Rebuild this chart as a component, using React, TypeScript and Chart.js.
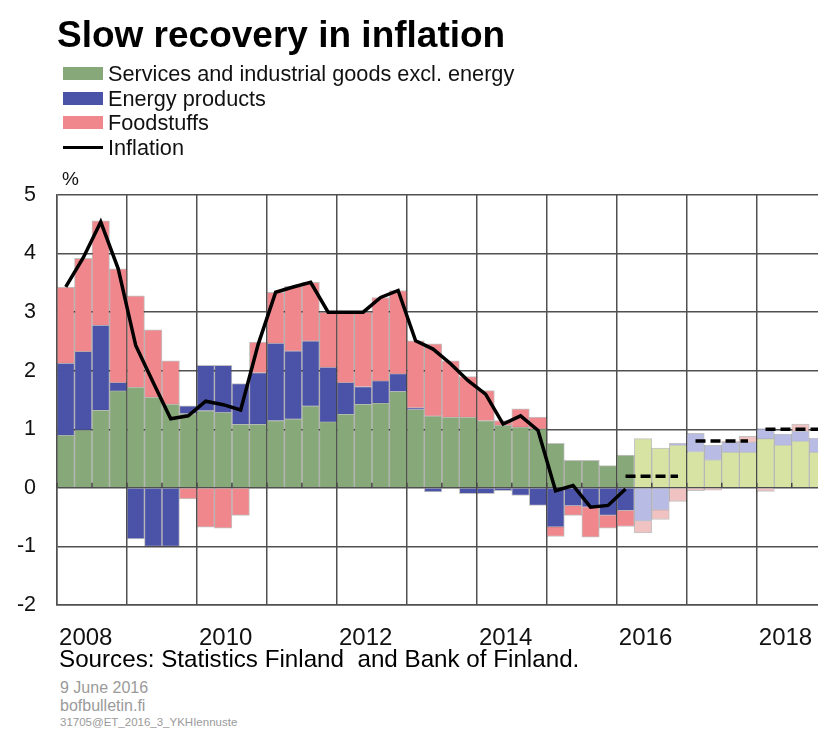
import React, { useEffect, useRef } from "react";
import { Chart, registerables } from "chart.js";

Chart.register(...registerables);

const FONT = '"Liberation Sans", Arial, Helvetica, sans-serif';

const years = [2008, 2009, 2010, 2011, 2012, 2013, 2014, 2015, 2016, 2017, 2018];
const quarterNames = ["Q1", "Q2", "Q3", "Q4"];
const labels = years.flatMap((y) => quarterNames.map((q) => `${y} ${q}`));
const firstForecast = "2016 Q2";

// Contributions to inflation, percentage points (quarterly)
const services = [
  0.9, 0.99, 1.33, 1.66, 1.72, 1.55, 1.43, 1.27, 1.32, 1.29, 1.09, 1.09,
  1.15, 1.18, 1.4, 1.13, 1.26, 1.43, 1.45, 1.65, 1.34, 1.23, 1.21, 1.21,
  1.15, 1.07, 1.04, 1.01, 0.76, 0.47, 0.47, 0.38, 0.56, 0.84, 0.68, 0.73,
  0.62, 0.48, 0.61, 0.61, 0.84, 0.73, 0.8, 0.61,
];
const energy = [
  1.23, 1.34, 1.45, 0.14, -0.87, -1.0, -1.0, 0.13, 0.77, 0.8, 0.69, 0.88,
  1.32, 1.16, 1.11, 0.93, 0.54, 0.3, 0.38, 0.3, 0.03, -0.07, 0, -0.1,
  -0.1, -0.05, -0.13, -0.3, -0.67, -0.31, -0.33, -0.47, -0.39, -0.57, -0.38, 0.03,
  0.31, 0.25, 0.17, 0.17, 0.17, 0.19, 0.17, 0.24,
];
const food = [
  1.3, 1.59, 1.78, 1.94, 1.56, 1.15, 0.74, -0.19, -0.67, -0.69, -0.47, 0.52,
  0.87, 1.1, 1.0, 0.94, 1.2, 1.27, 1.42, 1.42, 1.14, 1.23, 0.96, 0.69,
  0.51, 0.08, 0.31, 0.2, -0.16, -0.16, -0.51, -0.22, -0.27, -0.2, -0.16, -0.23,
  -0.05, -0.04, 0.02, 0.1, -0.06, 0, 0.12, 0,
];
const inflation: (number | null)[] = [
  3.43, 3.93, 4.54, 3.74, 2.43, 1.8, 1.18, 1.23, 1.48, 1.42, 1.33, 2.45,
  3.34, 3.43, 3.51, 3.0, 3.0, 3.0, 3.25, 3.37, 2.51, 2.37, 2.12, 1.83,
  1.6, 1.09, 1.23, 0.98, -0.05, 0.04, -0.33, -0.3, -0.02,
  null, null, null, null, null, null, null, null, null, null, null,
];
// Forecast annual inflation (dashed)
const forecastYears = [2016, 2017, 2018];
const forecastAvg = [0.2, 0.8, 1.0];

const yTicks = [-2, -1, 0, 1, 2, 3, 4, 5];

const COLORS = {
  green: "#87a878",
  blue: "#4b53a8",
  pink: "#ef878c",
  lightGreen: "#d7e3a3",
  lightBlue: "#b8bce4",
  lightPink: "#f0c2c2",
  grid: "#505050",
};

export default function App() {
  const ref = useRef<HTMLCanvasElement | null>(null);

  useEffect(() => {
    const canvas = ref.current;
    if (!canvas) return;
    const fStart = labels.indexOf(firstForecast);
    const pick = (dark: string, light: string) => labels.map((_, i) => (i >= fStart ? light : dark));

    const dashed = forecastYears.map((fy, j) => ({
      type: "line" as const,
      label: `Forecast ${fy}`,
      data: labels.map((_, i) => (years[Math.floor(i / 4)] === fy ? forecastAvg[j] : null)),
      borderColor: "#000",
      borderWidth: 3.5,
      borderDash: [10, 5],
      borderCapStyle: "butt" as const,
      pointRadius: 0,
      fill: false,
      tension: 0,
      order: 0,
      stack: `d${fy}`,
    }));

    const halfYearTicks = {
      id: "halfYearTicks",
      afterDatasetsDraw(chart: any) {
        const { ctx, scales } = chart;
        const x = scales.x;
        const y0 = scales.y.getPixelForValue(0);
        const step = x.getPixelForValue(1) - x.getPixelForValue(0);
        ctx.save();
        ctx.strokeStyle = "#444";
        ctx.lineWidth = 1.5;
        for (let i = 0; i < labels.length; i += 2) {
          const px = x.getPixelForValue(i) - step / 2;
          ctx.beginPath();
          ctx.moveTo(px, y0);
          ctx.lineTo(px, y0 - 5);
          ctx.stroke();
        }
        ctx.restore();
      },
    };

    const barBase = {
      borderColor: "rgba(40,40,40,0.28)",
      borderWidth: 1,
      barPercentage: 1,
      categoryPercentage: 1,
      order: 1,
      stack: "bars",
    };

    const chart = new Chart(canvas, {
      type: "bar",
      data: {
        labels,
        datasets: [
          {
            type: "line",
            label: "Inflation",
            data: inflation,
            borderColor: "#000",
            borderWidth: 3.5,
            pointRadius: 0,
            fill: false,
            tension: 0,
            order: 0,
            stack: "inf",
          } as any,
          ...(dashed as any[]),
          {
            ...barBase,
            label: "Services and industrial goods excl. energy",
            data: services,
            backgroundColor: pick(COLORS.green, COLORS.lightGreen),
          },
          {
            ...barBase,
            label: "Energy products",
            data: energy,
            backgroundColor: pick(COLORS.blue, COLORS.lightBlue),
          },
          {
            ...barBase,
            label: "Foodstuffs",
            data: food,
            backgroundColor: pick(COLORS.pink, COLORS.lightPink),
          },
        ],
      },
      options: {
        animation: false,
        responsive: false,
        maintainAspectRatio: false,
        layout: { padding: { top: 195, left: 0, right: 3, bottom: 0 } },
        plugins: {
          legend: { display: false },
          tooltip: { enabled: false },
          title: { display: false },
        },
        scales: {
          x: {
            stacked: true,
            offset: true,
            grid: {
              offset: true,
              drawTicks: false,
              lineWidth: 1.5,
              color: (ctx: any) => (ctx.index % 4 === 0 ? COLORS.grid : "rgba(0,0,0,0)"),
            },
            border: { display: true, color: COLORS.grid, width: 1.5 },
            ticks: {
              autoSkip: false,
              maxRotation: 0,
              minRotation: 0,
              padding: 19,
              labelOffset: 2.5,
              color: "#111",
              font: { family: FONT, size: 24 },
              callback: (_v: any, i: number) => (i % 8 === 1 ? String(years[Math.floor(i / 4)]) : ""),
            },
            afterFit: (s: any) => {
              s.height = 55;
            },
          },
          y: {
            stacked: true,
            min: yTicks[0],
            max: yTicks[yTicks.length - 1],
            afterBuildTicks: (s: any) => {
              s.ticks = yTicks.map((v) => ({ value: v }));
            },
            grid: { drawTicks: false, lineWidth: 1.5, color: COLORS.grid },
            border: { display: true, color: COLORS.grid, width: 1.5 },
            ticks: {
              padding: 21,
              color: "#111",
              font: { family: FONT, size: 21.5 },
            },
            afterFit: (s: any) => {
              s.width = 57;
            },
          },
        },
      } as any,
      plugins: [halfYearTicks],
    });
    return () => chart.destroy();
  }, []);

  const legendItems = [
    { label: "Services and industrial goods excl. energy", color: COLORS.green, line: false },
    { label: "Energy products", color: COLORS.blue, line: false },
    { label: "Foodstuffs", color: COLORS.pink, line: false },
    { label: "Inflation", color: "#000", line: true },
  ];

  return (
    <div
      style={{
        position: "absolute",
        left: 0,
        top: 0,
        width: 818,
        height: 729,
        overflow: "hidden",
        background: "#fff",
        fontFamily: FONT,
        color: "#111",
      }}
    >
      <canvas
        ref={ref}
        width={837}
        height={660}
        style={{ position: "absolute", left: 0, top: 0, width: 837, height: 660, display: "block" }}
      />
      <div
        style={{
          position: "absolute",
          left: 57,
          top: 16,
          fontSize: 37,
          lineHeight: "37px",
          fontWeight: "bold",
          color: "#000",
          whiteSpace: "nowrap",
        }}
      >
        Slow recovery in inflation
      </div>
      {legendItems.map((it, i) => (
        <div
          key={it.label}
          style={{
            position: "absolute",
            left: 63,
            top: 61 + i * 24.7,
            height: 25,
            display: "flex",
            alignItems: "center",
            whiteSpace: "nowrap",
          }}
        >
          <div
            style={{
              width: 40,
              height: it.line ? 3 : 13,
              background: it.color,
              marginRight: 5,
            }}
          />
          <span style={{ fontSize: 21.7, lineHeight: "25px" }}>{it.label}</span>
        </div>
      ))}
      <div style={{ position: "absolute", left: 62, top: 169, fontSize: 19, lineHeight: "19px" }}>%</div>
      <div
        style={{
          position: "absolute",
          left: 59,
          top: 646,
          fontSize: 24.2,
          lineHeight: "26px",
          whiteSpace: "pre",
          color: "#000",
        }}
      >
        {"Sources: Statistics Finland  and Bank of Finland."}
      </div>
      <div style={{ position: "absolute", left: 60, top: 679, fontSize: 16, lineHeight: "18px", color: "#9a9a9a" }}>
        9 June 2016
      </div>
      <div style={{ position: "absolute", left: 60, top: 697, fontSize: 16, lineHeight: "18px", color: "#9a9a9a" }}>
        bofbulletin.fi
      </div>
      <div style={{ position: "absolute", left: 60, top: 716, fontSize: 11.5, lineHeight: "13px", color: "#9a9a9a" }}>
        31705@ET_2016_3_YKHIennuste
      </div>
    </div>
  );
}
